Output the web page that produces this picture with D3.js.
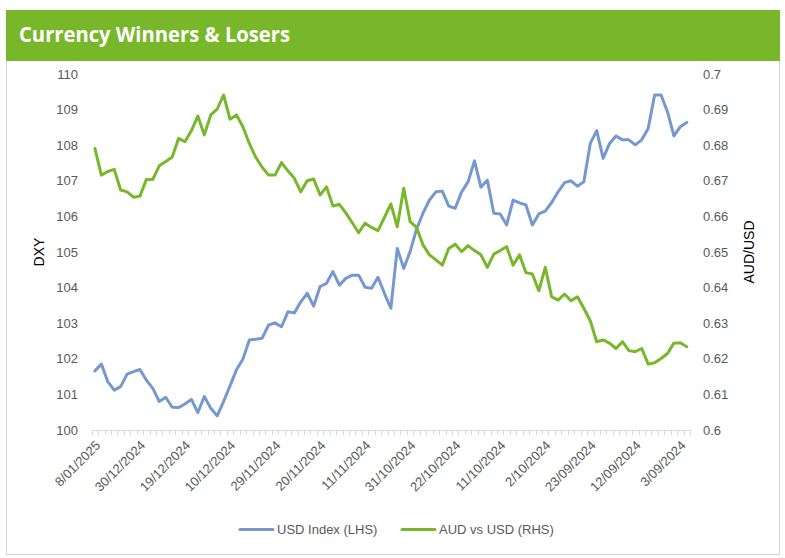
<!DOCTYPE html>
<html><head><meta charset="utf-8">
<script src="https://cdn.jsdelivr.net/npm/d3@7"></script>
<style>
html,body{margin:0;padding:0;background:#fff;}
svg{display:block;}
</style></head>
<body>
<svg id="c" width="785" height="558"></svg>
<script>
const title = "Currency Winners & Losers";
const dates = [
"8/01/2025","7/01/2025","6/01/2025","3/01/2025","2/01/2025","1/01/2025",
"31/12/2024","30/12/2024","27/12/2024","26/12/2024","25/12/2024","24/12/2024","23/12/2024","20/12/2024","19/12/2024","18/12/2024","17/12/2024","16/12/2024","13/12/2024","12/12/2024","11/12/2024","10/12/2024","9/12/2024","6/12/2024","5/12/2024","4/12/2024","3/12/2024","2/12/2024",
"29/11/2024","28/11/2024","27/11/2024","26/11/2024","25/11/2024","22/11/2024","21/11/2024","20/11/2024","19/11/2024","18/11/2024","15/11/2024","14/11/2024","13/11/2024","12/11/2024","11/11/2024","8/11/2024","7/11/2024","6/11/2024","5/11/2024","4/11/2024","1/11/2024",
"31/10/2024","30/10/2024","29/10/2024","28/10/2024","25/10/2024","24/10/2024","23/10/2024","22/10/2024","21/10/2024","18/10/2024","17/10/2024","16/10/2024","15/10/2024","14/10/2024","11/10/2024","10/10/2024","9/10/2024","8/10/2024","7/10/2024","4/10/2024","3/10/2024","2/10/2024","1/10/2024",
"30/09/2024","27/09/2024","26/09/2024","25/09/2024","24/09/2024","23/09/2024","20/09/2024","19/09/2024","18/09/2024","17/09/2024","16/09/2024","13/09/2024","12/09/2024","11/09/2024","10/09/2024","9/09/2024","6/09/2024","5/09/2024","4/09/2024","3/09/2024","2/09/2024"
];
const usdIndex = [
101.66,101.85,101.36,101.12,101.22,101.57,101.64,101.70,101.40,101.17,
100.80,100.92,100.64,100.63,100.73,100.86,100.49,100.94,100.61,100.40,
100.80,101.24,101.69,101.99,102.53,102.55,102.58,102.95,103.01,102.90,
103.32,103.29,103.60,103.84,103.48,104.03,104.12,104.45,104.07,104.26,
104.35,104.35,104.01,103.98,104.29,103.84,103.42,105.10,104.54,105.01,
105.65,106.09,106.46,106.69,106.71,106.29,106.23,106.69,106.97,107.56,
106.82,107.02,106.09,106.07,105.76,106.46,106.38,106.32,105.76,106.07,
106.15,106.39,106.69,106.95,107.00,106.85,106.97,108.05,108.41,107.63,
108.05,108.26,108.15,108.15,108.01,108.15,108.47,109.41,109.41,108.94,
108.26,108.52,108.64
];
const audUsd = [
0.6791,0.6716,0.6726,0.6732,0.6674,0.6669,0.6654,0.6657,0.6704,0.6704,
0.6742,0.6754,0.6766,0.6819,0.6810,0.6841,0.6882,0.6829,0.6885,0.6901,
0.6941,0.6873,0.6885,0.6852,0.6805,0.6766,0.6738,0.6716,0.6716,0.6751,
0.6728,0.6707,0.6669,0.6700,0.6705,0.6660,0.6683,0.6629,0.6634,0.6610,
0.6582,0.6554,0.6581,0.6569,0.6560,0.6597,0.6635,0.6571,0.6679,0.6585,
0.6569,0.6520,0.6492,0.6478,0.6463,0.6510,0.6522,0.6501,0.6518,0.6504,
0.6492,0.6457,0.6494,0.6504,0.6515,0.6463,0.6492,0.6442,0.6438,0.6391,
0.6457,0.6374,0.6365,0.6382,0.6363,0.6374,0.6342,0.6307,0.6248,0.6253,
0.6244,0.6229,0.6248,0.6223,0.6220,0.6229,0.6185,0.6189,0.6201,0.6215,
0.6244,0.6245,0.6234
];
const xTickLabels = ["8/01/2025","30/12/2024","19/12/2024","10/12/2024","29/11/2024","20/11/2024","11/11/2024","31/10/2024","22/10/2024","11/10/2024","2/10/2024","23/09/2024","12/09/2024","3/09/2024"];
const leftTicks = [100,101,102,103,104,105,106,107,108,109,110];
const rightTicks = [0.6,0.61,0.62,0.63,0.64,0.65,0.66,0.67,0.68,0.69,0.7];
const seriesNames = ["USD Index (LHS)","AUD vs USD (RHS)"];
const leftTitle = "DXY", rightTitle = "AUD/USD";

const GREEN = "#79b72a", BLUE = "#7698d0", TXT = "#595959", FONT = "'Liberation Sans', Arial, sans-serif";
const svg = d3.select("#c");

// card
svg.append("rect").attr("x",6.5).attr("y",10.5).attr("width",773).attr("height",544)
  .attr("fill","#fff").attr("stroke","#d4d4d4").attr("stroke-width",1);
svg.append("rect").attr("x",6).attr("y",10).attr("width",774).attr("height",51).attr("fill",GREEN);
svg.append("text").attr("x",19).attr("y",42).text(title)
  .attr("fill","#fff").attr("font-family","'Open Sans', Lato, sans-serif").attr("font-weight",700).attr("font-size",20.5)
  .attr("textLength",271).attr("lengthAdjust","spacingAndGlyphs");

const x = d3.scaleBand().domain(dates).range([91.7,690]).paddingInner(0).paddingOuter(0);
const yL = d3.scaleLinear().domain([100,110]).range([430,74]);
const yR = d3.scaleLinear().domain([0.6,0.7]).range([430,74]);
const cx = d => x(d) + x.bandwidth()/2;

// x axis baseline and category ticks
const xa = svg.append("g").attr("transform","translate(0,430)");
xa.append("line").attr("x1",91.7).attr("x2",690).attr("y1",0.5).attr("y2",0.5).attr("stroke","#d9d9d9").attr("stroke-width",1);
const bounds = dates.map(d => x(d)).concat([690]);
xa.selectAll("line.tk").data(bounds).join("line").attr("class","tk")
  .attr("x1",d=>Math.round(d)+0.5).attr("x2",d=>Math.round(d)+0.5).attr("y1",0).attr("y2",5)
  .attr("stroke","#d9d9d9").attr("stroke-width",1);
xa.selectAll("text").data(xTickLabels).join("text")
  .attr("transform", d => `translate(${cx(d)+3},13) rotate(-45)`)
  .attr("text-anchor","end").attr("dy","0.35em")
  .attr("font-family",FONT).attr("font-size",13).attr("fill",TXT).text(d=>d);

// left axis
const gl = svg.append("g").attr("transform","translate(78,0)")
  .call(d3.axisLeft(yL).tickValues(leftTicks).tickSize(0).tickPadding(0).tickFormat(d3.format("d")));
gl.select(".domain").remove();
gl.selectAll("text").attr("font-family",FONT).attr("font-size",13).attr("fill",TXT);
// right axis
const gr = svg.append("g").attr("transform","translate(703,0)")
  .call(d3.axisRight(yR).tickValues(rightTicks).tickSize(0).tickPadding(0).tickFormat(d => d3.format("")(+d.toFixed(2))));
gr.select(".domain").remove();
gr.selectAll("text").attr("font-family",FONT).attr("font-size",13).attr("fill",TXT);

svg.append("text").attr("transform","translate(44,252) rotate(-90)").attr("text-anchor","middle")
  .attr("font-family",FONT).attr("font-size",14).attr("fill","#000").text(leftTitle);
svg.append("text").attr("transform","translate(754,252) rotate(-90)").attr("text-anchor","middle")
  .attr("font-family",FONT).attr("font-size",14).attr("fill","#000").text(rightTitle);

// lines
const lineL = d3.line().x((d,i)=>cx(dates[i])).y(d=>yL(d));
const lineR = d3.line().x((d,i)=>cx(dates[i])).y(d=>yR(d));
svg.append("path").datum(usdIndex).attr("d",lineL).attr("fill","none").attr("stroke",BLUE)
  .attr("stroke-width",3).attr("stroke-linejoin","round").attr("stroke-linecap","round");
svg.append("path").datum(audUsd).attr("d",lineR).attr("fill","none").attr("stroke",GREEN)
  .attr("stroke-width",3).attr("stroke-linejoin","round").attr("stroke-linecap","round");

// legend
const leg = [{name:seriesNames[0],c:BLUE,x:240},{name:seriesNames[1],c:GREEN,x:402}];
const lg = svg.append("g");
leg.forEach(l=>{
  lg.append("line").attr("x1",l.x).attr("x2",l.x+33).attr("y1",529.5).attr("y2",529.5)
    .attr("stroke",l.c).attr("stroke-width",3).attr("stroke-linecap","round");
  lg.append("text").attr("x",l.x+37).attr("y",529.5).attr("dy","0.35em")
    .attr("font-family",FONT).attr("font-size",13).attr("fill",TXT).text(l.name);
});
</script>
</body></html>
